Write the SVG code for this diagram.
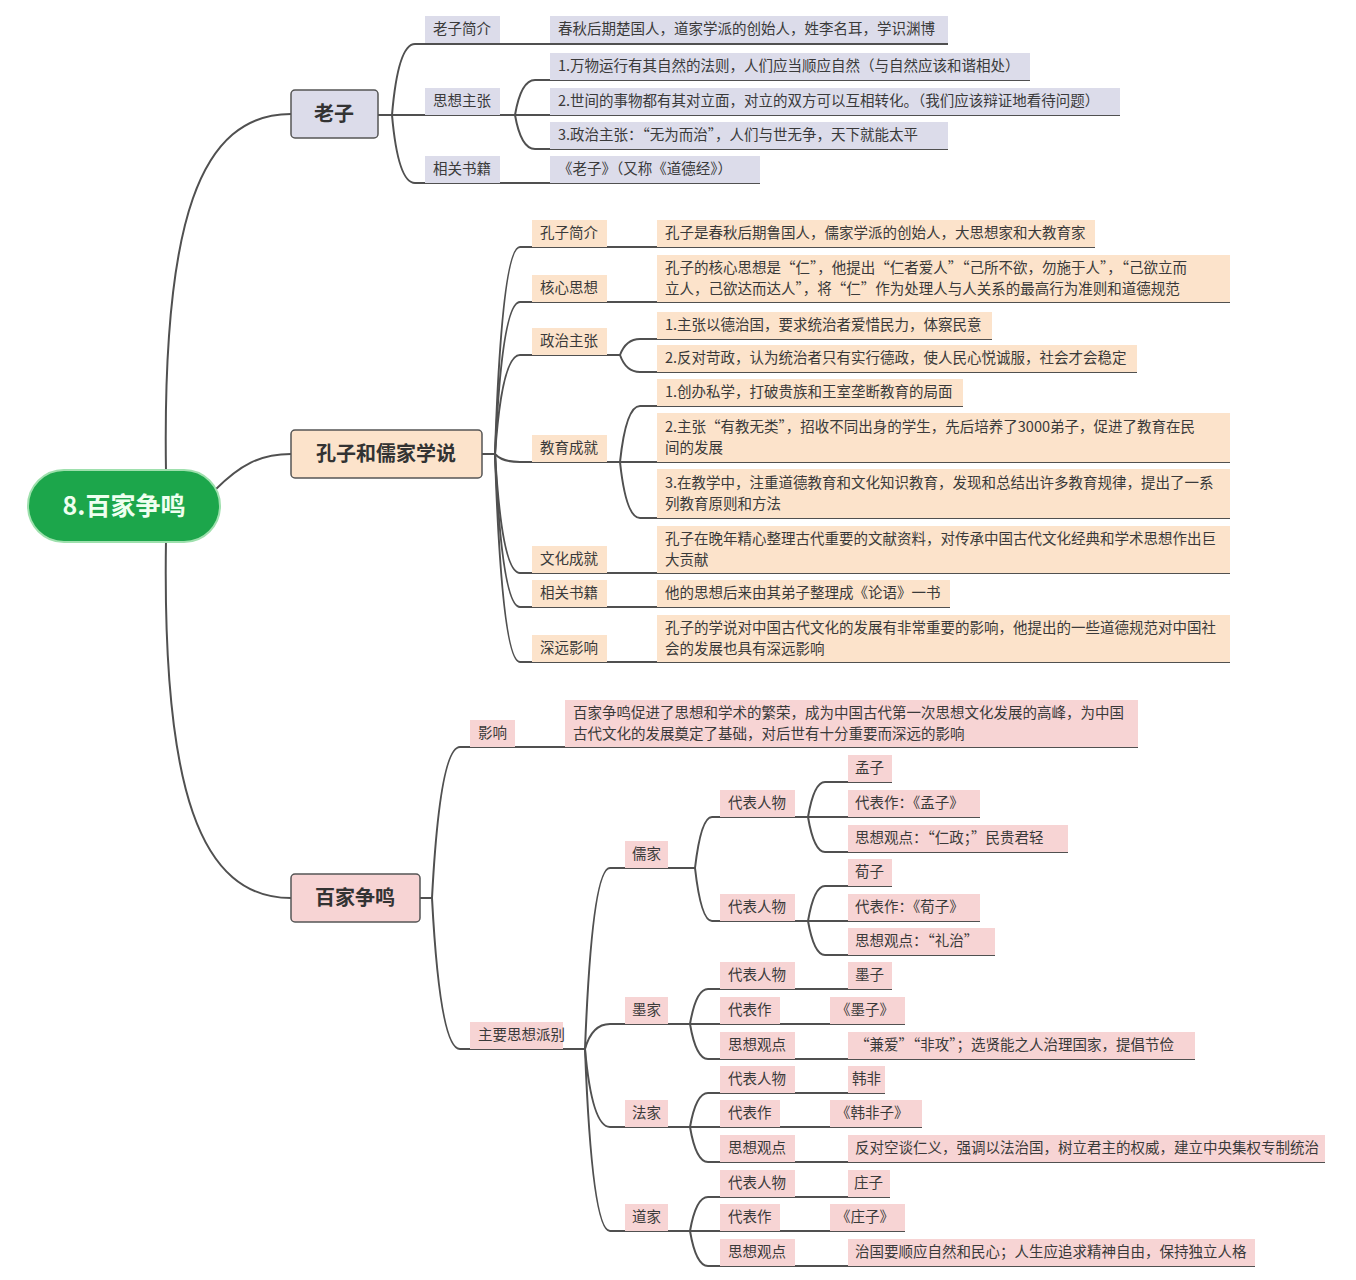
<svg xmlns="http://www.w3.org/2000/svg" width="1356" height="1280" viewBox="0 0 1356 1280">
<style>
.t{font-family:"Noto Sans CJK SC","Noto Sans",sans-serif;font-size:14.5px;fill:#3a3a3a}
.m{font-family:"Noto Sans CJK SC","Noto Sans",sans-serif;font-size:20px;font-weight:bold;fill:#333;text-anchor:middle}
.lz{fill:#dcdcea}
.kz{fill:#fce3cb}
.bj{fill:#f7d4d4}
.mb{stroke:#555;stroke-width:1.5}
.c{fill:none;stroke:#505050;stroke-width:2}
</style>
<rect width="1356" height="1280" fill="#fff"/>
<g id="connectors">
<path class="c" d="M166,472 C162,220 200,114 291,114"/>
<path class="c" d="M215,490 C240,465 260,454 291,454"/>
<path class="c" d="M166,540 C162,790 200,898 291,898"/>
<path class="c" d="M378,115 L392,115"/>
<path class="c" d="M392,115 Q398,44 415,44 L948,44"/>
<path class="c" d="M392,115 L1120,115"/>
<path class="c" d="M515,115 Q521,80 535,80 L1030,80"/>
<path class="c" d="M515,115 Q521,149 535,149 L948,149"/>
<path class="c" d="M392,115 Q398,183 415,183 L760,183"/>
<path class="c" d="M482,454 L495,454"/>
<path class="c" d="M495,454 Q502,247 520,247 L1095,247"/>
<path class="c" d="M495,454 Q502,302 520,302 L1230,302"/>
<path class="c" d="M495,454 Q502,355 520,355 L620,355"/>
<path class="c" d="M620,355 Q626,339 640,339 L992,339"/>
<path class="c" d="M620,355 Q626,372 640,372 L1137,372"/>
<path class="c" d="M495,454 Q502,462 520,462 L620,462"/>
<path class="c" d="M620,462 Q626,406 640,406 L963,406"/>
<path class="c" d="M620,462 L1230,462"/>
<path class="c" d="M620,462 Q626,518 640,518 L1230,518"/>
<path class="c" d="M495,454 Q502,573 520,573 L1230,573"/>
<path class="c" d="M495,454 Q502,607 520,607 L950,607"/>
<path class="c" d="M495,454 Q502,662 520,662 L1230,662"/>
<path class="c" d="M420,898 L432,898"/>
<path class="c" d="M432,898 Q440,747 460,747 L1138,747"/>
<path class="c" d="M432,898 Q440,1049 460,1049 L585,1049"/>
<path class="c" d="M585,1049 Q592,868 610,868 L695,868"/>
<path class="c" d="M695,868 Q701,817 712,817 L808,817"/>
<path class="c" d="M808,817 Q814,782 825,782 L892,782"/>
<path class="c" d="M808,817 L980,817"/>
<path class="c" d="M808,817 Q814,852 825,852 L1068,852"/>
<path class="c" d="M695,868 Q701,921 712,921 L808,921"/>
<path class="c" d="M808,921 Q814,886 825,886 L892,886"/>
<path class="c" d="M808,921 L980,921"/>
<path class="c" d="M808,921 Q814,955 825,955 L995,955"/>
<path class="c" d="M585,1049 Q592,1024 610,1024 L690,1024"/>
<path class="c" d="M690,1024 Q696,989 708,989 L892,989"/>
<path class="c" d="M690,1024 L905,1024"/>
<path class="c" d="M690,1024 Q696,1059 708,1059 L1195,1059"/>
<path class="c" d="M585,1049 Q592,1127 610,1127 L690,1127"/>
<path class="c" d="M690,1127 Q696,1093 708,1093 L885,1093"/>
<path class="c" d="M690,1127 L922,1127"/>
<path class="c" d="M690,1127 Q696,1162 708,1162 L1325,1162"/>
<path class="c" d="M585,1049 Q592,1231 610,1231 L690,1231"/>
<path class="c" d="M690,1231 Q696,1197 708,1197 L890,1197"/>
<path class="c" d="M690,1231 L905,1231"/>
<path class="c" d="M690,1231 Q696,1266 708,1266 L1255,1266"/>
</g>
<g id="root"><rect x="28" y="470" width="192" height="72" rx="36" fill="#1ca64b" stroke="#9ee0ad" stroke-width="2"/><text x="124" y="515" font-family="Noto Sans CJK SC,sans-serif" font-size="25" font-weight="bold" fill="#eefff0" text-anchor="middle">8.百家争鸣</text></g>
<g id="laozi"><rect class="lz mb" x="291" y="90" width="87" height="48" rx="4"/><text class="m" x="334" y="121">老子</text></g>
<g id="lz-intro"><rect class="lz" x="425" y="16" width="75" height="27"/><text class="t" x="433" y="34">老子简介</text></g>
<g id="lz-intro-c"><rect class="lz" x="550" y="16" width="398" height="27"/><text class="t" x="558" y="34">春秋后期楚国人，道家学派的创始人，姓李名耳，学识渊博</text></g>
<g id="lz-idea"><rect class="lz" x="425" y="88" width="75" height="27"/><text class="t" x="433" y="106">思想主张</text></g>
<g id="lz-idea1"><rect class="lz" x="550" y="53" width="480" height="27"/><text class="t" x="558" y="71">1.万物运行有其自然的法则，人们应当顺应自然（与自然应该和谐相处）</text></g>
<g id="lz-idea2"><rect class="lz" x="550" y="88" width="570" height="27"/><text class="t" x="558" y="106">2.世间的事物都有其对立面，对立的双方可以互相转化。（我们应该辩证地看待问题）</text></g>
<g id="lz-idea3"><rect class="lz" x="550" y="122" width="398" height="27"/><text class="t" x="558" y="140">3.政治主张：“无为而治”，人们与世无争，天下就能太平</text></g>
<g id="lz-book"><rect class="lz" x="425" y="156" width="75" height="27"/><text class="t" x="433" y="174">相关书籍</text></g>
<g id="lz-book-c"><rect class="lz" x="550" y="156" width="210" height="27"/><text class="t" x="558" y="174">《老子》（又称《道德经》）</text></g>
<g id="kongzi"><rect class="kz mb" x="291" y="430" width="191" height="48" rx="4"/><text class="m" x="386" y="461">孔子和儒家学说</text></g>
<g id="kz-intro"><rect class="kz" x="532" y="220" width="75" height="27"/><text class="t" x="540" y="238">孔子简介</text></g>
<g id="kz-intro-c"><rect class="kz" x="657" y="220" width="438" height="27"/><text class="t" x="665" y="238">孔子是春秋后期鲁国人，儒家学派的创始人，大思想家和大教育家</text></g>
<g id="kz-core"><rect class="kz" x="532" y="275" width="75" height="27"/><text class="t" x="540" y="293">核心思想</text></g>
<g id="kz-core-c"><rect class="kz" x="657" y="255" width="573" height="47"/><text class="t" x="665" y="273">孔子的核心思想是“仁”，他提出“仁者爱人”“己所不欲，勿施于人”，“己欲立而</text><text class="t" x="665" y="294">立人，己欲达而达人”，将“仁”作为处理人与人关系的最高行为准则和道德规范</text></g>
<g id="kz-pol"><rect class="kz" x="532" y="328" width="75" height="27"/><text class="t" x="540" y="346">政治主张</text></g>
<g id="kz-pol1"><rect class="kz" x="657" y="312" width="335" height="27"/><text class="t" x="665" y="330">1.主张以德治国，要求统治者爱惜民力，体察民意</text></g>
<g id="kz-pol2"><rect class="kz" x="657" y="345" width="480" height="27"/><text class="t" x="665" y="363">2.反对苛政，认为统治者只有实行德政，使人民心悦诚服，社会才会稳定</text></g>
<g id="kz-edu"><rect class="kz" x="532" y="435" width="75" height="27"/><text class="t" x="540" y="453">教育成就</text></g>
<g id="kz-edu1"><rect class="kz" x="657" y="379" width="306" height="27"/><text class="t" x="665" y="397">1.创办私学，打破贵族和王室垄断教育的局面</text></g>
<g id="kz-edu2"><rect class="kz" x="657" y="413" width="573" height="49"/><text class="t" x="665" y="432">2.主张“有教无类”，招收不同出身的学生，先后培养了3000弟子，促进了教育在民</text><text class="t" x="665" y="453">间的发展</text></g>
<g id="kz-edu3"><rect class="kz" x="657" y="469" width="573" height="49"/><text class="t" x="665" y="488">3.在教学中，注重道德教育和文化知识教育，发现和总结出许多教育规律，提出了一系</text><text class="t" x="665" y="509">列教育原则和方法</text></g>
<g id="kz-cul"><rect class="kz" x="532" y="546" width="75" height="27"/><text class="t" x="540" y="564">文化成就</text></g>
<g id="kz-cul-c"><rect class="kz" x="657" y="526" width="573" height="47"/><text class="t" x="665" y="544">孔子在晚年精心整理古代重要的文献资料，对传承中国古代文化经典和学术思想作出巨</text><text class="t" x="665" y="565">大贡献</text></g>
<g id="kz-book"><rect class="kz" x="532" y="580" width="75" height="27"/><text class="t" x="540" y="598">相关书籍</text></g>
<g id="kz-book-c"><rect class="kz" x="657" y="580" width="293" height="27"/><text class="t" x="665" y="598">他的思想后来由其弟子整理成《论语》一书</text></g>
<g id="kz-inf"><rect class="kz" x="532" y="635" width="75" height="27"/><text class="t" x="540" y="653">深远影响</text></g>
<g id="kz-inf-c"><rect class="kz" x="657" y="615" width="573" height="47"/><text class="t" x="665" y="633">孔子的学说对中国古代文化的发展有非常重要的影响，他提出的一些道德规范对中国社</text><text class="t" x="665" y="654">会的发展也具有深远影响</text></g>
<g id="baijia"><rect class="bj mb" x="291" y="874" width="129" height="48" rx="4"/><text class="m" x="355" y="905">百家争鸣</text></g>
<g id="bj-inf"><rect class="bj" x="470" y="720" width="45" height="27"/><text class="t" x="478" y="738">影响</text></g>
<g id="bj-inf-c"><rect class="bj" x="565" y="700" width="573" height="47"/><text class="t" x="573" y="718">百家争鸣促进了思想和学术的繁荣，成为中国古代第一次思想文化发展的高峰，为中国</text><text class="t" x="573" y="739">古代文化的发展奠定了基础，对后世有十分重要而深远的影响</text></g>
<g id="bj-main"><rect class="bj" x="470" y="1022" width="93" height="27"/><text class="t" x="478" y="1040">主要思想派别</text></g>
<g id="rujia"><rect class="bj" x="625" y="841" width="43" height="27"/><text class="t" x="632" y="859">儒家</text></g>
<g id="rj-p1"><rect class="bj" x="720" y="790" width="75" height="27"/><text class="t" x="728" y="808">代表人物</text></g>
<g id="rj-p1a"><rect class="bj" x="848" y="755" width="44" height="27"/><text class="t" x="855" y="773">孟子</text></g>
<g id="rj-p1b"><rect class="bj" x="848" y="790" width="132" height="27"/><text class="t" x="855" y="808">代表作：《孟子》</text></g>
<g id="rj-p1c"><rect class="bj" x="848" y="825" width="220" height="27"/><text class="t" x="855" y="843">思想观点：“仁政；”民贵君轻</text></g>
<g id="rj-p2"><rect class="bj" x="720" y="894" width="75" height="27"/><text class="t" x="728" y="912">代表人物</text></g>
<g id="rj-p2a"><rect class="bj" x="848" y="859" width="44" height="27"/><text class="t" x="855" y="877">荀子</text></g>
<g id="rj-p2b"><rect class="bj" x="848" y="894" width="132" height="27"/><text class="t" x="855" y="912">代表作：《荀子》</text></g>
<g id="rj-p2c"><rect class="bj" x="848" y="928" width="147" height="27"/><text class="t" x="855" y="946">思想观点：“礼治”</text></g>
<g id="mojia"><rect class="bj" x="625" y="997" width="43" height="27"/><text class="t" x="632" y="1015">墨家</text></g>
<g id="mj-a"><rect class="bj" x="720" y="962" width="75" height="27"/><text class="t" x="728" y="980">代表人物</text></g>
<g id="mj-a-c"><rect class="bj" x="848" y="962" width="44" height="27"/><text class="t" x="855" y="980">墨子</text></g>
<g id="mj-b"><rect class="bj" x="720" y="997" width="60" height="27"/><text class="t" x="728" y="1015">代表作</text></g>
<g id="mj-b-c"><rect class="bj" x="830" y="997" width="75" height="27"/><text class="t" x="836" y="1015">《墨子》</text></g>
<g id="mj-c"><rect class="bj" x="720" y="1032" width="75" height="27"/><text class="t" x="728" y="1050">思想观点</text></g>
<g id="mj-c-c"><rect class="bj" x="848" y="1032" width="347" height="27"/><text class="t" x="855" y="1050">“兼爱”“非攻”；选贤能之人治理国家，提倡节俭</text></g>
<g id="fajia"><rect class="bj" x="625" y="1100" width="43" height="27"/><text class="t" x="632" y="1118">法家</text></g>
<g id="fj-a"><rect class="bj" x="720" y="1066" width="75" height="27"/><text class="t" x="728" y="1084">代表人物</text></g>
<g id="fj-a-c"><rect class="bj" x="848" y="1066" width="37" height="27"/><text class="t" x="852" y="1084">韩非</text></g>
<g id="fj-b"><rect class="bj" x="720" y="1100" width="60" height="27"/><text class="t" x="728" y="1118">代表作</text></g>
<g id="fj-b-c"><rect class="bj" x="830" y="1100" width="92" height="27"/><text class="t" x="836" y="1118">《韩非子》</text></g>
<g id="fj-c"><rect class="bj" x="720" y="1135" width="75" height="27"/><text class="t" x="728" y="1153">思想观点</text></g>
<g id="fj-c-c"><rect class="bj" x="848" y="1135" width="477" height="27"/><text class="t" x="855" y="1153">反对空谈仁义，强调以法治国，树立君主的权威，建立中央集权专制统治</text></g>
<g id="daojia"><rect class="bj" x="625" y="1204" width="43" height="27"/><text class="t" x="632" y="1222">道家</text></g>
<g id="dj-a"><rect class="bj" x="720" y="1170" width="75" height="27"/><text class="t" x="728" y="1188">代表人物</text></g>
<g id="dj-a-c"><rect class="bj" x="848" y="1170" width="42" height="27"/><text class="t" x="854" y="1188">庄子</text></g>
<g id="dj-b"><rect class="bj" x="720" y="1204" width="60" height="27"/><text class="t" x="728" y="1222">代表作</text></g>
<g id="dj-b-c"><rect class="bj" x="830" y="1204" width="75" height="27"/><text class="t" x="836" y="1222">《庄子》</text></g>
<g id="dj-c"><rect class="bj" x="720" y="1239" width="75" height="27"/><text class="t" x="728" y="1257">思想观点</text></g>
<g id="dj-c-c"><rect class="bj" x="848" y="1239" width="407" height="27"/><text class="t" x="855" y="1257">治国要顺应自然和民心；人生应追求精神自由，保持独立人格</text></g>
</svg>
